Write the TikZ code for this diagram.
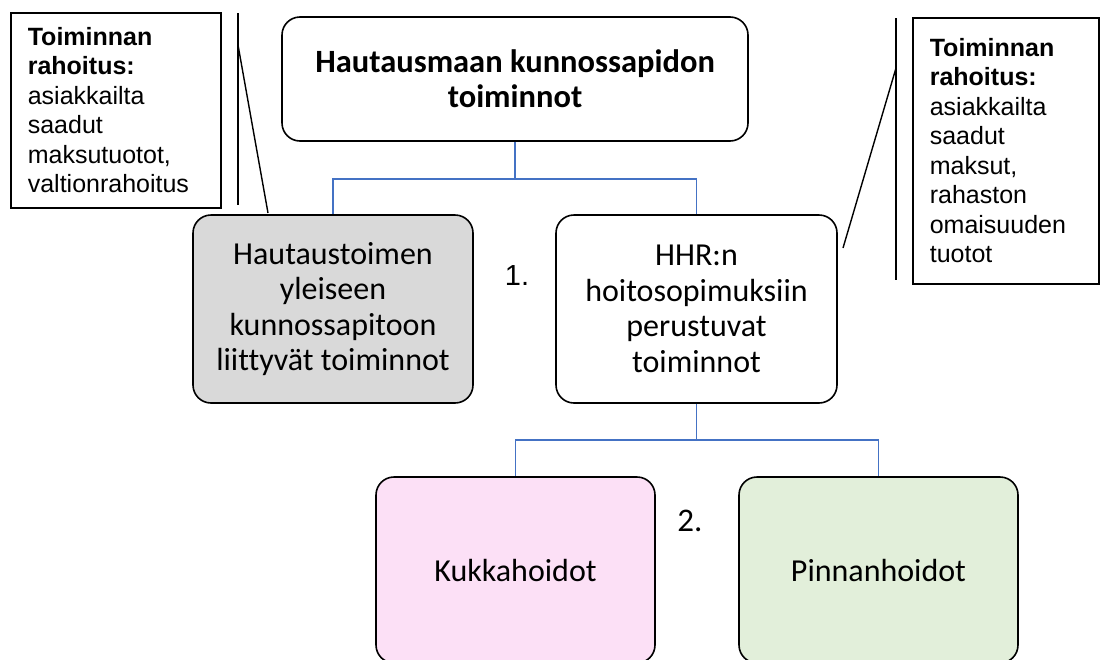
\documentclass[tikz,border=0pt]{standalone}
\usepackage{fontspec}
\setmainfont[Ligatures=NoCommon]{Carlito}
\newfontfamily\arialfont{Liberation Sans}
\usepackage{tikz}
\usetikzlibrary{positioning}
\definecolor{linkblue}{HTML}{4472C4}
\definecolor{boxgray}{HTML}{D9D9D9}
\definecolor{boxpink}{HTML}{FCE0F6}
\definecolor{boxgreen}{HTML}{E2EFDA}

\begin{document}
\begin{tikzpicture}[x=1pt,y=-1pt,
    box/.style={draw, line width=1.6pt, rounded corners=18pt, align=center, inner sep=0pt,
      font=\fontsize{32}{35.5}\selectfont},
    note/.style={draw, line width=1.6pt, anchor=north west, align=left, inner xsep=17pt, inner ysep=0pt,
      font=\arialfont\fontsize{25}{29.5}\selectfont},
    link/.style={draw=linkblue, line width=1.4pt},
    callout/.style={line width=1.4pt}]
    \useasboundingbox (0,0) rectangle (1107,659);
    \clip (0,0) rectangle (1107,659);
    % main boxes
    \node[box, minimum width=466pt, minimum height=124pt, font=\bfseries\fontsize{32.5}{35}\selectfont]
      (top) at (515,79) {Hautausmaan kunnossapidon\\toiminnot};
    \node[box, fill=boxgray, minimum width=280pt, minimum height=188pt]
      (yleinen) at (333,309) {Hautaustoimen\\yleiseen\\kunnossapitoon\\liittyvät toiminnot};
    \node[box, minimum width=281pt, minimum height=188pt]
      (hhr) at (696.5,309) {HHR:n\\hoitosopimuksiin\\perustuvat\\toiminnot};
    \node[box, fill=boxpink, minimum width=279pt, minimum height=186pt]
      (kukka) at (515.5,570) {Kukkahoidot};
    \node[box, fill=boxgreen, minimum width=279pt, minimum height=186pt]
      (pinta) at (878.5,570) {Pinnanhoidot};
    \node[font=\arialfont\fontsize{29}{30}\selectfont] (nro1) at (517,276) {1.};
    \node[font=\fontsize{33}{35}\selectfont] (nro2) at (690,521) {2.};
    % tree lines
    \draw[link] (top.south) -- ++(0,37) -| (yleinen.north);
    \draw[link] (top.south) -- ++(0,37) -| (hhr.north);
    \draw[link] (hhr.south) -- ++(0,36) -| (kukka.north);
    \draw[link] (hhr.south) -- ++(0,36) -| (pinta.north);
    % rahoitus notes
    \node[note, text width=176pt, minimum height=195pt] (rahoitusL) at (10,12)
      {\textbf{Toiminnan}\\\textbf{rahoitus:}\\asiakkailta\\saadut\\maksutuotot,\\valtionrahoitus};
    \node[note, text width=152pt, minimum height=266pt] (rahoitusR) at (912,17)
      {\textbf{Toiminnan}\\\textbf{rahoitus:}\\asiakkailta\\saadut\\maksut,\\rahaston\\omaisuuden\\tuotot};
    \coordinate (ltop) at (238,13);
    \coordinate (lbot) at (238,205);
    \coordinate (lknee) at (238,45);
    \coordinate (ltip) at (268,213);
    \coordinate (rtop) at (896,18);
    \coordinate (rbot) at (896,280);
    \coordinate (rknee) at (896,68);
    \coordinate (rtip) at (843,248);
    \draw[callout] (ltop) -- (lbot);
    \draw[callout] (lknee) -- (ltip);
    \draw[callout] (rtop) -- (rbot);
    \draw[callout] (rknee) -- (rtip);
\end{tikzpicture}
\end{document}
